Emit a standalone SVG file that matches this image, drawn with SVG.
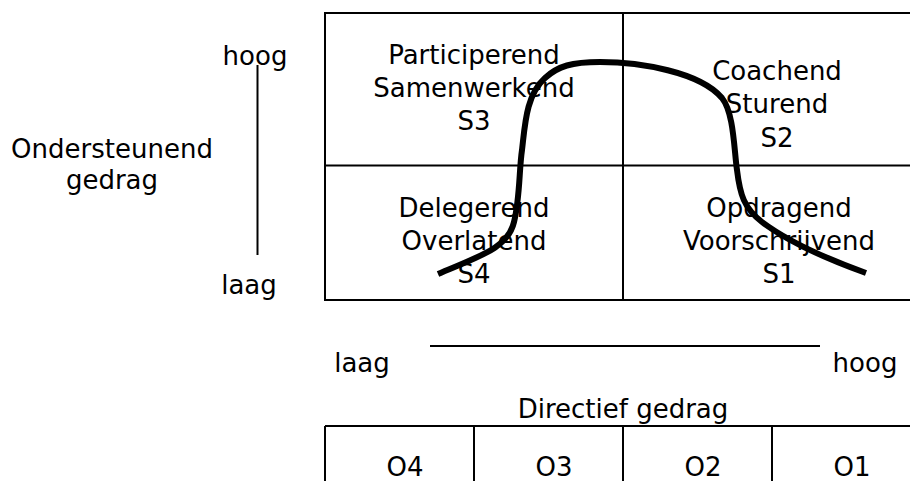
<svg xmlns="http://www.w3.org/2000/svg" width="910" height="481" viewBox="0 0 910 481">
<style>
text{font-family:"DejaVu Sans","Verdana",sans-serif;font-size:26px;fill:#000;text-anchor:middle}
.ln{stroke:#000;stroke-width:2;fill:none}
.curve{stroke:#000;stroke-width:6;fill:none;stroke-linecap:butt}
</style>
<rect width="910" height="481" fill="#fff"/>
<g id="axis-y">
<line class="ln" x1="257.5" y1="65" x2="257.5" y2="255"/>
<text x="255" y="65">hoog</text>
<text x="249" y="294">laag</text>
<text x="112" y="158">Ondersteunend</text>
<text x="112" y="189">gedrag</text>
</g>
<g id="grid">
<rect class="ln" x="325" y="13" width="596" height="287"/>
<line class="ln" x1="325" y1="165.5" x2="921" y2="165.5"/>
<line class="ln" x1="623" y1="13" x2="623" y2="300"/>
</g>
<g id="S3">
<text x="474" y="64">Participerend</text>
<text x="474" y="97">Samenwerkend</text>
<text x="474" y="130">S3</text>
</g>
<g id="S2">
<text x="777" y="80">Coachend</text>
<text x="777" y="113">Sturend</text>
<text x="777" y="147">S2</text>
</g>
<g id="S4">
<text x="474" y="217">Delegerend</text>
<text x="474" y="250">Overlatend</text>
<text x="474" y="283">S4</text>
</g>
<g id="S1">
<text x="779" y="217">Opdragend</text>
<text x="779" y="250">Voorschrijvend</text>
<text x="779" y="283">S1</text>
</g>
<g id="connectors">
<path class="curve" d="M438,274 C480,256 508,248 514,222 C520,198 519,170 522,150 C525,125 526,95 545,78 C558,66 572,62 600,62 C640,62 700,72 722,98 C734,113 734,150 737,170 C740,195 744,208 762,222 C790,243 830,260 866,273"/>
</g>
<g id="axis-x">
<line class="ln" x1="430" y1="346" x2="820" y2="346"/>
<text x="362" y="372">laag</text>
<text x="865" y="372">hoog</text>
<text x="623" y="418">Directief gedrag</text>
</g>
<g id="table">
<line class="ln" x1="325" y1="426" x2="921" y2="426"/>
<line class="ln" x1="325" y1="426" x2="325" y2="481"/>
<line class="ln" x1="474" y1="426" x2="474" y2="481"/>
<line class="ln" x1="623" y1="426" x2="623" y2="481"/>
<line class="ln" x1="772" y1="426" x2="772" y2="481"/>
<text x="405" y="476">O4</text>
<text x="554" y="476">O3</text>
<text x="703" y="476">O2</text>
<text x="852" y="476">O1</text>
</g>
</svg>
